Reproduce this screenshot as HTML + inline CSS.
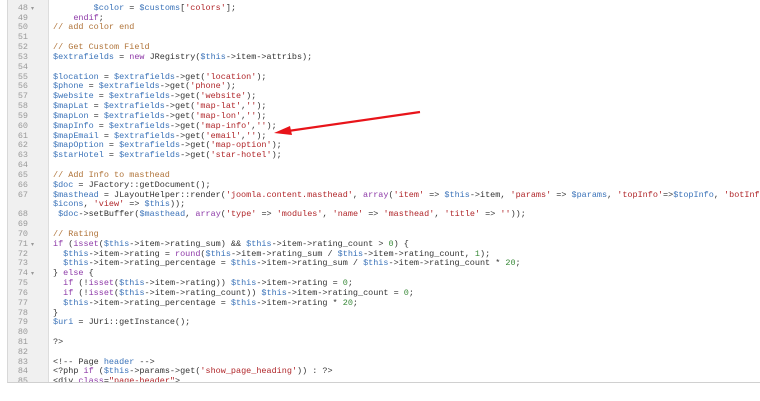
<!DOCTYPE html>
<html><head><meta charset="utf-8"><style>
html,body{margin:0;padding:0;background:#fff;width:760px;height:401px;overflow:hidden;position:relative}
#ed{position:absolute;left:7px;top:-10px;width:760px;height:392px;border-bottom:1px solid #d0d0d0;border-left:1px solid #d8d8d8;overflow:hidden;background:#fff}
#gut{position:absolute;left:0;top:0;width:40px;height:100%;background:#f0f0f0;border-right:1px solid #ddd}
pre{margin:0;font-family:"Liberation Mono",monospace;font-size:8.47px;line-height:9.83px;position:absolute;top:4px;white-space:pre;color:#333}
#nums{left:0;width:20px;text-align:right;color:#999}
.f{position:absolute;left:23px;color:#999;font-size:6px;line-height:9.83px;font-family:"DejaVu Sans",sans-serif}
#code{left:45px}
.v{color:#3b73b9}.s{color:#b0262a}.c{color:#b0743a}.k{color:#8e3aa8}.n{color:#3a8a3a}
</style></head><body>
<div id="ed"><div id="gut"></div>
<pre id="nums">47
48
49
50
51
52
53
54
55
56
57
58
59
60
61
62
63
64
65
66
67

68
69
70
71
72
73
74
75
76
77
78
79
80
81
82
83
84
85</pre>
<span class="f" style="top:14px">▾</span>
<span class="f" style="top:250px">▾</span>
<span class="f" style="top:279px">▾</span>
<pre id="code">    <span class="k">else</span>:
        <span class="v">$color</span> = <span class="v">$customs</span>[<span class="s">'colors'</span>];
    <span class="k">endif</span>;
<span class="c">// add color end</span>

<span class="c">// Get Custom Field</span>
<span class="v">$extrafields</span> = <span class="k">new</span> JRegistry(<span class="v">$this</span>-&gt;item-&gt;attribs);

<span class="v">$location</span> = <span class="v">$extrafields</span>-&gt;get(<span class="s">'location'</span>);
<span class="v">$phone</span> = <span class="v">$extrafields</span>-&gt;get(<span class="s">'phone'</span>);
<span class="v">$website</span> = <span class="v">$extrafields</span>-&gt;get(<span class="s">'website'</span>);
<span class="v">$mapLat</span> = <span class="v">$extrafields</span>-&gt;get(<span class="s">'map-lat'</span>,<span class="s">''</span>);
<span class="v">$mapLon</span> = <span class="v">$extrafields</span>-&gt;get(<span class="s">'map-lon'</span>,<span class="s">''</span>);
<span class="v">$mapInfo</span> = <span class="v">$extrafields</span>-&gt;get(<span class="s">'map-info'</span>,<span class="s">''</span>);
<span class="v">$mapEmail</span> = <span class="v">$extrafields</span>-&gt;get(<span class="s">'email'</span>,<span class="s">''</span>);
<span class="v">$mapOption</span> = <span class="v">$extrafields</span>-&gt;get(<span class="s">'map-option'</span>);
<span class="v">$starHotel</span> = <span class="v">$extrafields</span>-&gt;get(<span class="s">'star-hotel'</span>);

<span class="c">// Add Info to masthead</span>
<span class="v">$doc</span> = JFactory::getDocument();
<span class="v">$masthead</span> = JLayoutHelper::render(<span class="s">'joomla.content.masthead'</span>, <span class="k">array</span>(<span class="s">'item'</span> =&gt; <span class="v">$this</span>-&gt;item, <span class="s">'params'</span> =&gt; <span class="v">$params</span>, <span class="s">'topInfo'</span>=&gt;<span class="v">$topInfo</span>, <span class="s">'botInfo'</span>
<span class="v">$icons</span>, <span class="s">'view'</span> =&gt; <span class="v">$this</span>));
 <span class="v">$doc</span>-&gt;setBuffer(<span class="v">$masthead</span>, <span class="k">array</span>(<span class="s">'type'</span> =&gt; <span class="s">'modules'</span>, <span class="s">'name'</span> =&gt; <span class="s">'masthead'</span>, <span class="s">'title'</span> =&gt; <span class="s">''</span>));

<span class="c">// Rating</span>
<span class="k">if</span> (<span class="k">isset</span>(<span class="v">$this</span>-&gt;item-&gt;rating_sum) &amp;&amp; <span class="v">$this</span>-&gt;item-&gt;rating_count &gt; <span class="n">0</span>) {
  <span class="v">$this</span>-&gt;item-&gt;rating = <span class="k">round</span>(<span class="v">$this</span>-&gt;item-&gt;rating_sum / <span class="v">$this</span>-&gt;item-&gt;rating_count, <span class="n">1</span>);
  <span class="v">$this</span>-&gt;item-&gt;rating_percentage = <span class="v">$this</span>-&gt;item-&gt;rating_sum / <span class="v">$this</span>-&gt;item-&gt;rating_count * <span class="n">20</span>;
} <span class="k">else</span> {
  <span class="k">if</span> (!<span class="k">isset</span>(<span class="v">$this</span>-&gt;item-&gt;rating)) <span class="v">$this</span>-&gt;item-&gt;rating = <span class="n">0</span>;
  <span class="k">if</span> (!<span class="k">isset</span>(<span class="v">$this</span>-&gt;item-&gt;rating_count)) <span class="v">$this</span>-&gt;item-&gt;rating_count = <span class="n">0</span>;
  <span class="v">$this</span>-&gt;item-&gt;rating_percentage = <span class="v">$this</span>-&gt;item-&gt;rating * <span class="n">20</span>;
}
<span class="v">$uri</span> = JUri::getInstance();

?&gt;

&lt;!-- Page <span class="v">header</span> --&gt;
&lt;?php <span class="k">if</span> (<span class="v">$this</span>-&gt;params-&gt;get(<span class="s">'show_page_heading'</span>)) : ?&gt;
&lt;div <span class="k">class</span>=<span class="s">"page-header"</span>&gt;</pre>
</div>
<svg width="760" height="401" style="position:absolute;left:0;top:0">
<line x1="420" y1="112" x2="288" y2="131" stroke="#e8141a" stroke-width="2.2"/>
<polygon points="274,133 290,126 292,135" fill="#e8141a"/>
</svg>
</body></html>
